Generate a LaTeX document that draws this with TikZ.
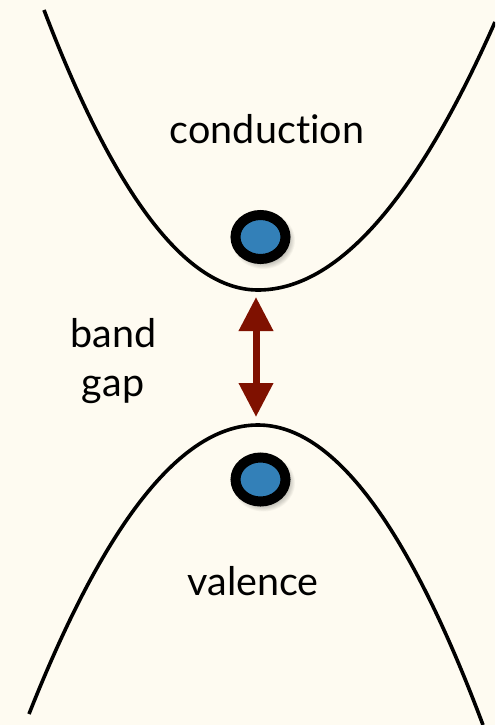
\documentclass[tikz,border=0pt]{standalone}
\usepackage{fontspec}
\setmainfont{Lato}[Ligatures={NoCommon}]
\usetikzlibrary{arrows.meta,shapes.geometric}
\definecolor{bgcol}{HTML}{FEFBF1}
\definecolor{dotblue}{HTML}{3380B8}
\definecolor{gapred}{HTML}{7F1100}
\tikzset{
  band/.style={line width=3.6pt, line cap=butt},
  particle/.style={ellipse, draw=black, fill=dotblue, line width=10pt,
    minimum width=50pt, minimum height=44pt, inner sep=0pt},
  label/.style={font=\fontsize{39.5}{46}\selectfont, text=black, anchor=base, inner sep=0pt},
  gaparrow/.style={draw=gapred, line width=7pt,
    {Triangle[width=33pt,length=34pt]}-{Triangle[width=33pt,length=34pt]}}
}
\begin{document}
\begin{tikzpicture}[x=1pt,y=-1pt]
  \fill[bgcol] (0,0) rectangle (495,725);
  \useasboundingbox (0,0) rectangle (495,725);
  \begin{scope}
    \clip (0,0) rectangle (495,725);
    % conduction band
    \draw[band] (44,10) .. controls (115.3,196.7) and (186.7,290) .. (258,290)
                       .. controls (337,290) and (416,200.7) .. (495,22);
    % valence band
    \draw[band] (29,714) .. controls (105.3,521.3) and (181.7,425) .. (258,425)
                        .. controls (333,425) and (408,525) .. (483,725);
  \end{scope}
  % soft shadows
  \foreach \cy in {240.5,483} {
    \foreach \r in {0,1,...,6} {
      \fill[black, opacity=0.035] (263.5,\cy) ellipse ({31.5-\r*0.9} and {28.5-\r*0.9});
    }
  }
  \node[particle] (eC) at (260.5,237) {};
  \node[particle] (eV) at (260.5,479.5) {};
  \coordinate (gTop) at (256,297);
  \coordinate (gBot) at (256,417);
  \draw[gaparrow] (gTop) -- (gBot);
  \node[label] (tC) at (267,143) {conduction};
  \node[label] (tB) at (113.5,347) {band};
  \node[label] (tG) at (113,396) {gap};
  \node[label] (tV) at (253,595) {valence};
\end{tikzpicture}
\end{document}
